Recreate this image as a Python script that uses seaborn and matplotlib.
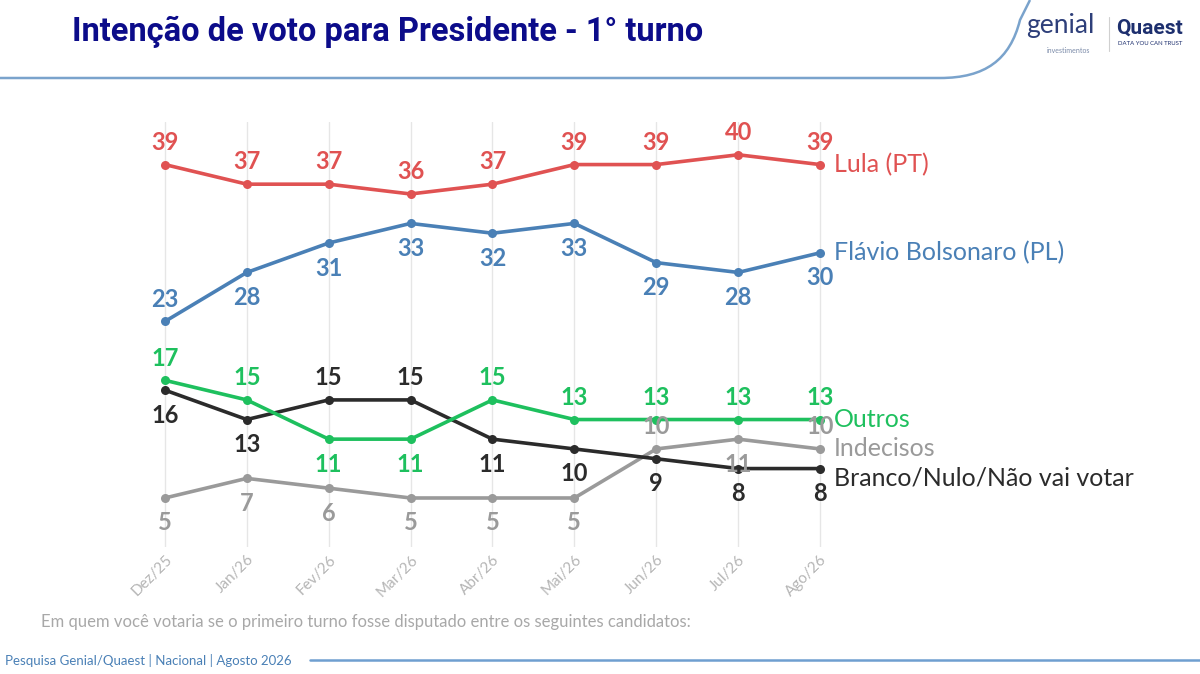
import numpy as np
import pandas as pd
import matplotlib.pyplot as plt
import seaborn as sns
from matplotlib.path import Path
from matplotlib.patches import PathPatch

# dados
meses = ['Dez/25', 'Jan/26', 'Fev/26', 'Mar/26', 'Abr/26', 'Mai/26', 'Jun/26', 'Jul/26', 'Ago/26']
lula = [39, 37, 37, 36, 37, 39, 39, 40, 39]
flavio = [23, 28, 31, 33, 32, 33, 29, 28, 30]
outros = [17, 15, 11, 11, 15, 13, 13, 13, 13]
branco = [16, 13, 15, 15, 11, 10, 9, 8, 8]
indecisos = [5, 7, 6, 5, 5, 5, 10, 11, 10]

nomes = ['Lula (PT)', 'Flávio Bolsonaro (PL)', 'Outros', 'Branco/Nulo/Não vai votar', 'Indecisos']
cores = ['#e05252', '#4a80b6', '#1ec05e', '#2b2b2b', '#9a9a9a']

# rotulos acima (1) ou abaixo (-1) do ponto
lado_lula = [1, 1, 1, 1, 1, 1, 1, 1, 1]
lado_flavio = [1, -1, -1, -1, -1, -1, -1, -1, -1]
lado_outros = [1, 1, -1, -1, 1, 1, 1, 1, 1]
lado_branco = [-1, -1, 1, 1, -1, -1, -1, -1, -1]
lado_indecisos = [-1, -1, -1, -1, -1, -1, 1, -1, 1]

valores = [lula, flavio, outros, branco, indecisos]
lados = [lado_lula, lado_flavio, lado_outros, lado_branco, lado_indecisos]
desloc_nome = [0, 0, 0, -7, 0]

df = pd.concat([pd.DataFrame({'x': range(len(meses)), 'mes': meses, 'valor': v, 'serie': n})
                for v, n in zip(valores, nomes)], ignore_index=True)

sns.set_style('white')
plt.rcParams['font.family'] = ['Lato', 'DejaVu Sans']

fig = plt.figure(figsize=(12, 6.74), dpi=100)

ax = fig.add_axes([0.1033, 0.1884, 0.6142, 0.63])
ax.patch.set_alpha(0)

for i, n in enumerate(nomes):
    sns.lineplot(data=df[df.serie == n], x='x', y='valor', color=cores[i], lw=2.6,
                 marker='o', markersize=6.5, markeredgewidth=0, ax=ax, legend=False,
                 zorder=3 + (4 - i) * 0.1)

for i, n in enumerate(nomes):
    for j, v in enumerate(valores[i]):
        ax.annotate(str(v), (j, v), xytext=(0, 16 if lados[i][j] > 0 else -18),
                    textcoords='offset points', ha='center', va='center',
                    fontsize=17, fontweight='bold', color=cores[i], zorder=5)
    ax.annotate(n, (len(meses) - 1, valores[i][-1]), xytext=(10, desloc_nome[i]),
                textcoords='offset points', ha='left', va='center',
                fontsize=18, color=cores[i], annotation_clip=False)

ax.set_xlim(-0.5, 8.5)
ax.set_ylim(0, 43.3)
ax.set_xticks(range(len(meses)))
ax.set_xticklabels(meses, rotation=45, ha='right', rotation_mode='anchor',
                   fontsize=11, color='#b5b5b5')
ax.tick_params(axis='x', length=0, pad=4)
ax.set_yticks([])
ax.set_xlabel('')
ax.set_ylabel('')
ax.grid(axis='x', color='#e6e6e6', lw=1)
for s in ax.spines.values():
    s.set_visible(False)

# titulo e textos
fig.text(0.06, 0.952, 'Intenção de voto para Presidente - 1° turno', fontsize=23.5,
         fontweight='bold', color='#0c0c8a', family=['Roboto', 'DejaVu Sans'], va='center')
fig.text(0.034, 0.077, 'Em quem você votaria se o primeiro turno fosse disputado entre os seguintes candidatos:',
         fontsize=12, color='#a8a8a8', va='center')
fig.text(0.004, 0.02, 'Pesquisa Genial/Quaest | Nacional | Agosto 2026', fontsize=9.5,
         color='#4a80b6', va='center')

# linhas decorativas
W, H = 1200, 674
topo = Path([(0 / W, 1 - 78 / H), (940 / W, 1 - 78 / H), (985 / W, 1 - 78 / H),
             (1010 / W, 1 - 60 / H), (1020 / W, 1 - 20 / H), (1030 / W, 1 - 0 / H)],
            [Path.MOVETO, Path.LINETO, Path.CURVE4, Path.CURVE4, Path.CURVE4, Path.LINETO])
fig.add_artist(PathPatch(topo, fill=False, edgecolor='#7aa3cc', lw=1.8, transform=fig.transFigure))
fig.add_artist(plt.Line2D([310 / W, 1], [1 - 660 / H, 1 - 660 / H], color='#6f9fd0', lw=1.8,
                          transform=fig.transFigure))

# logo
fig.text(0.855, 0.962, 'genial', fontsize=19, color='#2e3f7a', va='center', ha='left')
fig.text(0.872, 0.93, 'investimentos', fontsize=5, color='#7a8aa8', va='top', ha='left')
fig.text(0.93, 0.958, 'Quaest', fontsize=15, fontweight='bold', color='#1d2f6e', va='center',
         ha='left', family=['Roboto', 'DejaVu Sans'])
fig.text(0.932, 0.935, 'DATA YOU CAN TRUST', fontsize=4.3, color='#1d2f6e', va='center', ha='left')
fig.add_artist(plt.Line2D([0.924, 0.924], [0.925, 0.975], color='#d0d0d0', lw=0.8,
                          transform=fig.transFigure))

fig.savefig('out.png', dpi=100)
